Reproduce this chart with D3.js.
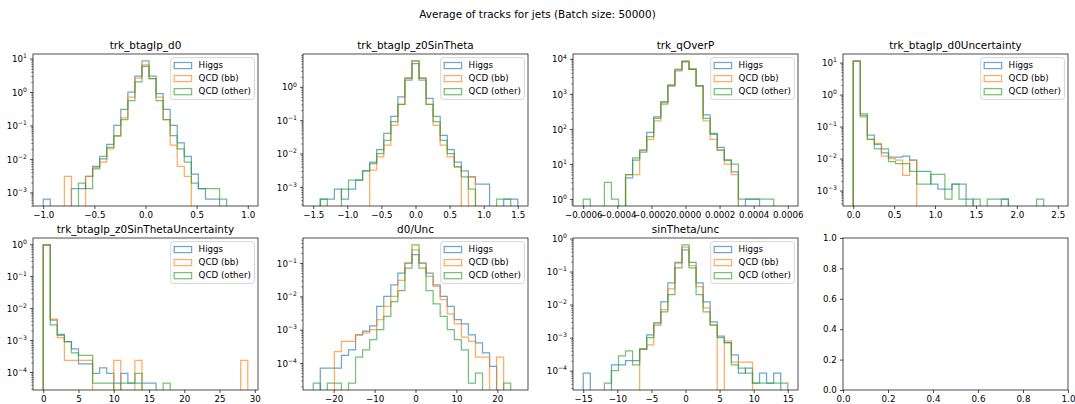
<!DOCTYPE html>
<html>
<head>
<meta charset="utf-8">
<script src="https://cdn.jsdelivr.net/npm/d3@7"></script>
<style>
body { margin: 0; background: #fff; }
svg { display: block; font-family: "DejaVu Sans", sans-serif; }
</style>
</head>
<body>
<svg id="chart" width="1075" height="404"></svg>
<script>

// series
const seriesNames = ["Higgs", "QCD (bb)", "QCD (other)"];
const seriesColors = ["#1f77b4", "#ff7f0e", "#2ca02c"];

// panels
const panelTitles = ["trk_btagIp_d0", "trk_btagIp_z0SinTheta", "trk_qOverP", "trk_btagIp_d0Uncertainty",
                     "trk_btagIp_z0SinThetaUncertainty", "d0/Unc", "sinTheta/unc"];
const binRanges = [[-1, 1], [-1.5, 1.5], [-0.0006, 0.0006], [0, 2.5], [0, 29], [-25, 25], [-15, 15]];
const xTickValues = [
	[-1, -0.5, 0, 0.5, 1],
	[-1.5, -1, -0.5, 0, 0.5, 1, 1.5],
	[-0.0006, -0.0004, -0.0002, 0, 0.0002, 0.0004, 0.0006],
	[0, 0.5, 1, 1.5, 2, 2.5],
	[0, 5, 10, 15, 20, 25, 30],
	[-20, -10, 0, 10, 20],
	[-15, -10, -5, 0, 5, 10, 15]
];
const xTickFormats = [".1f", ".1f", ".4f", ".1f", "d", "d", "d"];
const emptyTicks = [0, 0.2, 0.4, 0.6, 0.8, 1.0];

// bin heights, 29 bins per series
const d0Higgs = [6.3e-4, 0, 0, 0, 1.3e-3, 1.3e-3, 3e-3, 6e-3, 0.01, 0.027, 0.1, 0.3, 1.0, 3.0, 5.8,
                 3.0, 0.9, 0.3, 0.1, 0.03, 0.012, 3.5e-3, 1.3e-3, 6.3e-4, 6.3e-4, 0, 0, 0, 0];
const d0Bb = [0, 0, 0, 3e-3, 0, 0, 3e-3, 5.5e-3, 8e-3, 0.02, 0.047, 0.17, 0.7, 2.6, 6.5,
              2.5, 0.7, 0.15, 0.026, 6e-3, 3e-3, 0, 0, 0, 0, 0, 0, 0, 0];
const d0Other = [0, 0, 0, 0, 0, 1.9e-3, 1.3e-3, 5e-3, 0.012, 0.022, 0.05, 0.15, 0.55, 2.0, 8.5,
                 2.5, 0.55, 0.15, 0.05, 0.02, 8e-3, 1.9e-3, 1.3e-3, 1.3e-3, 1.3e-3, 6.3e-4, 0, 0, 0];

const z0Higgs = [0, 4.3e-4, 4.3e-4, 8.6e-4, 4.3e-4, 8.6e-4, 1.6e-3, 3e-3, 5.5e-3, 0.013, 0.04, 0.13, 0.5, 1.8, 5.0,
                 1.8, 0.45, 0.13, 0.035, 0.013, 5.5e-3, 3e-3, 2e-3, 1.2e-3, 1.2e-3, 0, 0, 4.3e-4, 4.3e-4];
const z0Bb = [0, 0, 0, 0, 0, 0, 0, 0, 3.2e-3, 8e-3, 0.018, 0.07, 0.3, 1.9, 6.0,
              1.9, 0.3, 0.07, 0.018, 8e-3, 4e-3, 0, 2e-3, 0, 0, 0, 0, 0, 0];
const z0Other = [0, 4.3e-4, 0, 0, 8.6e-4, 1.6e-3, 1.6e-3, 3e-3, 5e-3, 0.01, 0.025, 0.09, 0.3, 1.6, 6.0,
                 1.6, 0.3, 0.09, 0.025, 0.01, 4e-3, 2e-3, 8.6e-4, 0, 0, 0, 4.3e-4, 4.3e-4, 0];

const qopHiggs = [0, 0, 0, 0, 0, 0, 4, 13, 22, 80, 220, 600, 1800, 5000, 8200,
                  5000, 1700, 250, 70, 30, 13, 6, 0, 1, 1, 0, 0, 0, 0];
const qopBb = [0, 0, 0, 0, 0, 0, 5, 5, 25, 50, 170, 500, 1700, 5000, 8700,
               5200, 1700, 170, 50, 25, 10, 5, 0, 0, 0, 0, 0, 0, 0];
const qopOther = [1, 0, 0, 3, 1, 0, 5, 15, 25, 60, 200, 550, 1700, 4500, 8500,
                  5000, 1700, 200, 75, 25, 13, 10, 1, 1, 1, 1, 1, 0, 0];

const d0UncHiggs = [11, 0.25, 0.054, 0.028, 0.015, 0.011, 0.011, 0.012, 9e-3, 4e-3, 4e-3, 1.6e-3, 1.1e-3, 1.1e-3, 1.6e-3,
                    1.6e-3, 5.4e-4, 0, 0, 0, 0, 5.4e-4, 0, 0, 0, 0, 0, 0, 0];
const d0UncBb = [11.2, 0.2, 0.04, 0.03, 0.012, 0.01, 9e-3, 3e-3, 9e-3, 0, 0, 0, 0, 0, 0,
                 0, 0, 0, 0, 0, 0, 0, 0, 0, 0, 0, 0, 0, 0];
const d0UncOther = [11.3, 0.22, 0.04, 0.02, 0.02, 8e-3, 7e-3, 7e-3, 4e-3, 1.6e-3, 1.6e-3, 3.2e-3, 3.2e-3, 5.4e-4, 1.6e-3,
                    5.4e-4, 0, 5.4e-4, 0, 5.4e-4, 5.4e-4, 5.4e-4, 0, 0, 0, 0, 5.4e-4, 0, 0];

const z0UncHiggs = [0.93, 4.2e-3, 1.5e-3, 9e-4, 5.3e-4, 1.8e-4, 1.8e-4, 9e-5, 1.35e-4, 9e-5, 4.5e-5, 9e-5, 4.5e-5, 4.5e-5, 4.5e-5,
                    4.5e-5, 0, 0, 0, 0, 0, 0, 0, 0, 0, 0, 0, 0, 0];
const z0UncBb = [0.95, 4.5e-3, 1.2e-3, 2.3e-4, 2.3e-4, 2.3e-4, 2.3e-4, 0, 0, 0, 2.3e-4, 0, 0, 2.3e-4, 0,
                 0, 0, 0, 0, 0, 0, 0, 0, 0, 0, 0, 0, 0, 2.3e-4];
const z0UncOther = [0.95, 3e-3, 1.4e-3, 9e-4, 4e-4, 3.3e-4, 3.3e-4, 4.5e-5, 4.5e-5, 4.5e-5, 0, 4.5e-5, 4.5e-5, 9e-5, 0,
                    0, 0, 4.5e-5, 0, 0, 0, 0, 0, 0, 0, 0, 0, 0, 0];

const d0SigHiggs = [0, 7e-5, 7e-5, 7e-5, 1.7e-4, 2.5e-4, 7e-4, 9e-4, 1.3e-3, 5e-3, 0.01, 0.022, 0.05, 0.1, 0.18,
                    0.1, 0.05, 0.022, 0.01, 5e-3, 2e-3, 1.5e-3, 7e-4, 4e-4, 2e-4, 8e-5, 0, 0, 0];
const d0SigBb = [0, 0, 0, 2.2e-4, 4.5e-4, 4.5e-4, 7e-4, 8e-4, 1e-3, 2e-3, 5e-3, 0.01, 0.03, 0.1, 0.25,
                 0.1, 0.04, 0.02, 8e-3, 3e-3, 1.5e-3, 6e-4, 4.5e-4, 1.5e-4, 1.5e-4, 0, 1.5e-4, 0, 0];
const d0SigOther = [2.5e-5, 0, 2.5e-5, 2.5e-5, 0, 2.5e-5, 1.5e-4, 2.5e-4, 5e-4, 1e-3, 2.5e-3, 7e-3, 0.015, 0.07, 0.35,
                    0.07, 0.015, 6e-3, 2.5e-3, 1e-3, 5e-4, 2.5e-4, 2.5e-5, 5e-5, 0, 0, 0, 2.5e-5, 0];

const sinSigHiggs = [8.4e-5, 0, 0, 0, 1.5e-4, 1.5e-4, 2e-4, 2e-4, 4.5e-4, 1.2e-3, 2.8e-3, 0.012, 0.045, 0.19, 0.45,
                     0.19, 0.045, 0.012, 3e-3, 1.1e-3, 7e-4, 3e-4, 8.4e-5, 1.2e-4, 4.2e-5, 8.4e-5, 4.2e-5, 8.4e-5, 0];
const sinSigBb = [0, 0, 0, 0, 0, 0, 0, 0, 4.5e-4, 6e-4, 2.8e-3, 7e-3, 0.03, 0.18, 0.55,
                  0.15, 0.035, 8e-3, 2.4e-3, 0, 8e-4, 1.8e-4, 1.8e-4, 1.8e-4, 0, 0, 0, 0, 0];
const sinSigOther = [0, 0, 0, 4.2e-5, 1e-4, 2.8e-4, 4e-4, 1.5e-4, 4.5e-4, 1e-3, 2.4e-3, 6e-3, 0.02, 0.13, 0.64,
                     0.13, 0.02, 6e-3, 2.4e-3, 1e-3, 7e-4, 1.5e-4, 1.2e-4, 8.4e-5, 4.2e-5, 4.2e-5, 4.2e-5, 4.2e-5, 4.2e-5];

const panelValues = [
	[d0Higgs, d0Bb, d0Other],
	[z0Higgs, z0Bb, z0Other],
	[qopHiggs, qopBb, qopOther],
	[d0UncHiggs, d0UncBb, d0UncOther],
	[z0UncHiggs, z0UncBb, z0UncOther],
	[d0SigHiggs, d0SigBb, d0SigOther],
	[sinSigHiggs, sinSigBb, sinSigOther]
];

// layout
let lefts = [33, 303, 573, 843];
let tops = [54, 238];
let aw = 225, ah = 152;
let tickFont = 8.7, titleFont = 10.44;
let lineAlpha = 0.65, lineWidth = 1.25;

const svg = d3.select("#chart");

svg.append("text")
   .attr("x", 537.5)
   .attr("y", 17.8)
   .attr("text-anchor", "middle")
   .attr("font-size", titleFont)
   .text("Average of tracks for jets (Batch size: 50000)");

function styleAxis(g) {
	g.attr("font-size", tickFont).attr("font-family", null).attr("color", "#000");
	g.select(".domain").remove();
	g.selectAll(".tick line").attr("stroke-width", 0.7);
}

function drawPanel(i) {
	const left = lefts[i % 4], top = tops[Math.floor(i / 4)];
	const [lo, hi] = binRanges[i];
	const values = panelValues[i];
	const nb = values[0].length;
	const edges = d3.range(nb + 1).map(k => lo + k * (hi - lo) / nb);

	const pad = 0.05 * (hi - lo);
	const x = d3.scaleLinear().domain([lo - pad, hi + pad]).range([left, left + aw]);

	// log y limits with 5% margin in decades
	const all = values.flat().filter(v => v > 0);
	const lmin = Math.log10(d3.min(all)), lmax = Math.log10(d3.max(all));
	const lpad = 0.05 * (lmax - lmin);
	const y = d3.scaleLog().domain([Math.pow(10, lmin - lpad), Math.pow(10, lmax + lpad)]).range([top + ah, top]);

	const g = svg.append("g");

	g.append("clipPath").attr("id", "clip" + i)
	 .append("rect").attr("x", left).attr("y", top).attr("width", aw).attr("height", ah);

	// histograms as steps
	const yBase = top + ah + 6;
	const plot = g.append("g").attr("clip-path", `url(#clip${i})`);
	values.forEach((vals, s) => {
		const p = d3.path();
		p.moveTo(x(edges[0]), yBase);
		vals.forEach((v, k) => {
			const yy = v > 0 ? y(v) : yBase;
			p.lineTo(x(edges[k]), yy);
			p.lineTo(x(edges[k + 1]), yy);
		});
		p.lineTo(x(edges[nb]), yBase);
		plot.append("path")
			.attr("d", p.toString())
			.attr("fill", "none")
			.attr("stroke", seriesColors[s])
			.attr("stroke-opacity", lineAlpha)
			.attr("stroke-width", lineWidth);
	});

	// x axis
	g.append("g")
	 .attr("transform", `translate(0,${top + ah})`)
	 .call(d3.axisBottom(x).tickValues(xTickValues[i]).tickSize(3).tickPadding(3)
	 		.tickFormat(d3.format(xTickFormats[i])))
	 .call(styleAxis);

	// y axis, minor then major
	const [d0, d1] = y.domain();
	const minors = [];
	for (let e = Math.floor(Math.log10(d0)); e <= Math.ceil(Math.log10(d1)); e++) {
		for (let j = 2; j <= 9; j++) {
			const v = j * Math.pow(10, e);
			if (v >= d0 && v <= d1) minors.push(v);
		}
	}
	const majors = d3.range(Math.ceil(Math.log10(d0)), Math.floor(Math.log10(d1)) + 1).map(e => Math.pow(10, e));

	g.append("g")
	 .attr("transform", `translate(${left},0)`)
	 .call(d3.axisLeft(y).tickValues(minors).tickSize(1.75).tickFormat(""))
	 .call(styleAxis)
	 .call(a => a.selectAll(".tick line").attr("stroke-width", 0.5));

	const ya = g.append("g")
	 .attr("transform", `translate(${left},0)`)
	 .call(d3.axisLeft(y).tickValues(majors).tickSize(3).tickPadding(3.1).tickFormat(""))
	 .call(styleAxis);

	ya.selectAll(".tick text").each(function(d) {
		const e = Math.round(Math.log10(d));
		const t = d3.select(this).attr("dy", "0.36em");
		t.append("tspan").text("10");
		t.append("tspan").attr("dy", -3.9).attr("font-size", 6.1).text(e < 0 ? "\u2212" + (-e) : String(e));
	});

	// frame
	g.append("rect")
	 .attr("x", left).attr("y", top).attr("width", aw).attr("height", ah)
	 .attr("fill", "none").attr("stroke", "#000").attr("stroke-width", 0.7);

	// title
	g.append("text")
	 .attr("x", left + aw / 2)
	 .attr("y", top - 5.2)
	 .attr("text-anchor", "middle")
	 .attr("font-size", titleFont)
	 .text(panelTitles[i]);

	// legend
	const lw = 83.7, lh = 41.8;
	const lx = left + aw - 3.6 - lw, ly = top + 3.6;
	const leg = g.append("g");
	leg.append("rect")
	   .attr("x", lx).attr("y", ly).attr("width", lw).attr("height", lh)
	   .attr("rx", 2.5)
	   .attr("fill", "#fff").attr("fill-opacity", 0.8)
	   .attr("stroke", "#cccccc").attr("stroke-width", 0.8);
	seriesNames.forEach((name, s) => {
		const ry = ly + 3.5 + s * 13.05;
		leg.append("rect")
		   .attr("x", lx + 3.5).attr("y", ry + 1.4).attr("width", 17.4).attr("height", 6.1)
		   .attr("fill", "none")
		   .attr("stroke", seriesColors[s]).attr("stroke-opacity", lineAlpha).attr("stroke-width", lineWidth);
		leg.append("text")
		   .attr("x", lx + 27.9).attr("y", ry + 6.9)
		   .attr("font-size", tickFont)
		   .text(name);
	});
}

d3.range(panelValues.length).forEach(drawPanel);

// the unused eighth axes
{
	const left = lefts[3], top = tops[1];
	const x = d3.scaleLinear().domain([0, 1]).range([left, left + aw]);
	const y = d3.scaleLinear().domain([0, 1]).range([top + ah, top]);
	const g = svg.append("g");
	g.append("g")
	 .attr("transform", `translate(0,${top + ah})`)
	 .call(d3.axisBottom(x).tickValues(emptyTicks).tickSize(3).tickPadding(3).tickFormat(d3.format(".1f")))
	 .call(styleAxis);
	g.append("g")
	 .attr("transform", `translate(${left},0)`)
	 .call(d3.axisLeft(y).tickValues(emptyTicks).tickSize(3).tickPadding(3.1).tickFormat(d3.format(".1f")))
	 .call(styleAxis);
	g.append("rect")
	 .attr("x", left).attr("y", top).attr("width", aw).attr("height", ah)
	 .attr("fill", "none").attr("stroke", "#000").attr("stroke-width", 0.7);
}
</script>
</body>
</html>
